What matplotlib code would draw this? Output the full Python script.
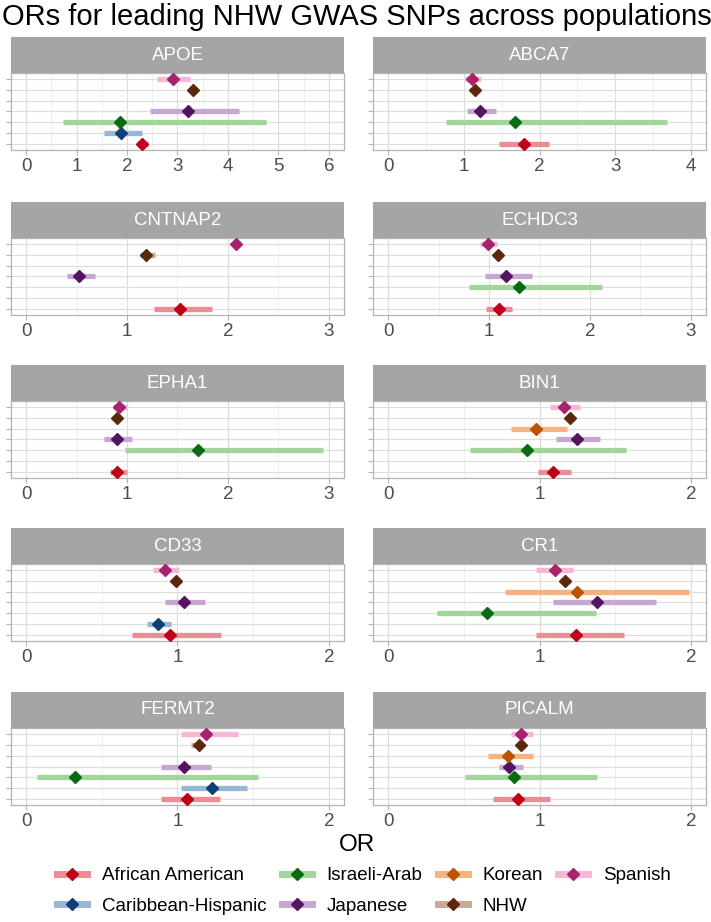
import numpy as np
import matplotlib
matplotlib.use("Agg")
import matplotlib.pyplot as plt
from matplotlib.lines import Line2D

plt.rcParams['font.family'] = ['Liberation Sans', 'DejaVu Sans']

nan = np.nan

# ===== DATA =====
genes = ["APOE", "ABCA7", "CNTNAP2", "ECHDC3", "EPHA1",
         "BIN1", "CD33", "CR1", "FERMT2", "PICALM"]
populations = ["African American", "Caribbean-Hispanic", "Israeli-Arab",
               "Japanese", "Korean", "NHW", "Spanish"]
x_max = [6, 4, 3, 3, 3, 2, 2, 2, 2, 2]

# rows = genes, cols = populations
or_val = np.array([
    [2.30, 1.88, 1.86, 3.21, nan, 3.30, 2.91],
    [1.79, nan, 1.68, 1.22, nan, 1.15, 1.11],
    [1.52, nan, nan, 0.52, nan, 1.19, 2.08],
    [1.10, nan, 1.30, 1.17, nan, 1.09, 0.99],
    [0.90, nan, 1.70, 0.90, nan, 0.90, 0.92],
    [1.09, nan, 0.92, 1.25, 0.98, 1.20, 1.16],
    [0.95, 0.87, nan, 1.04, nan, 0.99, 0.92],
    [1.24, nan, 0.65, 1.38, 1.25, 1.17, 1.10],
    [1.06, 1.23, 0.32, 1.04, nan, 1.14, 1.19],
    [0.86, nan, 0.83, 0.80, 0.79, 0.88, 0.88],
])
ci_lo = np.array([
    [2.20, 1.55, 0.74, 2.45, nan, 3.22, 2.59],
    [1.47, nan, 0.77, 1.04, nan, 1.12, 1.02],
    [1.27, nan, nan, 0.40, nan, 1.13, 2.05],
    [0.97, nan, 0.80, 0.96, nan, 1.06, 0.91],
    [0.83, nan, 0.98, 0.77, nan, 0.88, 0.86],
    [0.99, nan, 0.54, 1.11, 0.81, 1.18, 1.07],
    [0.70, 0.80, nan, 0.92, nan, 0.97, 0.84],
    [0.98, nan, 0.32, 1.09, 0.77, 1.14, 0.98],
    [0.89, 1.02, 0.07, 0.89, nan, 1.09, 1.02],
    [0.69, nan, 0.51, 0.73, 0.66, 0.86, 0.81],
])
ci_hi = np.array([
    [2.41, 2.30, 4.75, 4.22, nan, 3.39, 3.25],
    [2.12, nan, 3.68, 1.43, nan, 1.20, 1.23],
    [1.84, nan, nan, 0.68, nan, 1.28, 2.11],
    [1.23, nan, 2.12, 1.43, nan, 1.12, 1.08],
    [1.00, nan, 2.94, 1.05, nan, 0.92, 1.00],
    [1.21, nan, 1.57, 1.40, 1.18, 1.23, 1.27],
    [1.29, 0.96, nan, 1.18, nan, 1.02, 1.01],
    [1.56, nan, 1.37, 1.77, 1.99, 1.20, 1.22],
    [1.28, 1.46, 1.53, 1.22, nan, 1.17, 1.40],
    [1.07, nan, 1.38, 0.89, 0.96, 0.90, 0.96],
])

line_colors = ['#EE8C96', '#98B6D6', '#A2D59A', '#C6A6D3', '#F7B27E', '#CDA894', '#F7B5D7']
point_colors = ['#BE0019', '#0F3F74', '#0B6A14', '#55145F', '#BA5400', '#5B270D', '#A8236E']

# ===== LAYOUT (pixels) =====
W, H = 711, 922
fig = plt.figure(figsize=(W / 100, H / 100), dpi=100)

col_left = [11, 373]
col_width = 333
row_top = [73, 238, 401, 564, 728]
panel_h = 77
strip_h = 36
y_pos = np.arange(1, len(populations) + 1)

for g, gene in enumerate(genes):
    r, c = divmod(g, 2)
    left = col_left[c] / W
    bottom = 1 - (row_top[r] + panel_h) / H
    ax = fig.add_axes([left, bottom, col_width / W, panel_h / H])

    # strip
    sax = fig.add_axes([left, 1 - row_top[r] / H, col_width / W, strip_h / H])
    sax.set_facecolor('#A5A5A5')
    sax.set_xticks([]); sax.set_yticks([])
    for s in sax.spines.values():
        s.set_visible(False)
    sax.text(0.5, 0.5, gene, color='white', fontsize=13.5, ha='center', va='center',
             transform=sax.transAxes)

    for p in range(len(populations)):
        if np.isnan(or_val[g, p]):
            continue
        ax.plot([ci_lo[g, p], ci_hi[g, p]], [y_pos[p], y_pos[p]],
                color=line_colors[p], lw=3.8, solid_capstyle='butt', zorder=3)
        ax.plot(or_val[g, p], y_pos[p], marker='D', ms=6,
                color=point_colors[p], mec=point_colors[p], zorder=4)

    xm = x_max[g]
    ax.set_xlim(-0.05 * xm, 1.05 * xm)
    ax.set_ylim(0.4, len(populations) + 0.6)
    ax.set_xticks(np.arange(0, xm + 1))
    ax.set_xticks(np.arange(0.5, xm, 1), minor=True)
    ax.set_yticks(y_pos)
    ax.set_yticklabels([])
    ax.grid(True, which='major', color='#DEDEDE', lw=0.9, zorder=0)
    ax.grid(True, which='minor', axis='x', color='#EDEDED', lw=0.6, zorder=0)
    ax.set_axisbelow(True)
    ax.tick_params(axis='both', which='major', color='#B3B3B3', length=3.5, width=0.8,
                   labelsize=13.5, labelcolor='#4D4D4D', pad=2.5)
    ax.tick_params(axis='x', which='minor', length=0)
    for s in ax.spines.values():
        s.set_color('#B3B3B3')
        s.set_linewidth(0.9)

# ===== TITLE, AXIS LABEL, LEGEND =====
fig.text(2 / W, 1 - 17 / H, "ORs for leading NHW GWAS SNPs across populations",
         fontsize=21, ha='left', va='center', color='black')
fig.text(357 / W, 1 - 845 / H, "OR", fontsize=17.5, ha='center', va='center')

handles = [Line2D([], [], color=line_colors[p], lw=5, marker='D', ms=6,
                  mfc=point_colors[p], mec=point_colors[p])
           for p in range(len(populations))]
fig.legend(handles, populations, loc='center', bbox_to_anchor=(364 / W, 1 - 891 / H),
           ncol=4, frameon=False, fontsize=13.5, handlelength=1.6, handletextpad=0.8,
           columnspacing=0.8, labelspacing=0.7, numpoints=1)

fig.savefig("out.png", dpi=100)
